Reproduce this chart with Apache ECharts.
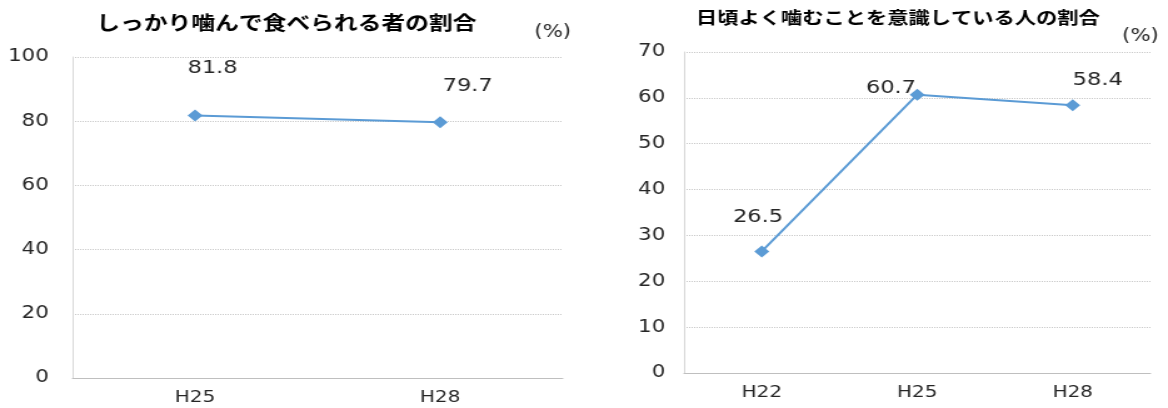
<!DOCTYPE html>
<html>
<head>
<meta charset="utf-8">
<script src="https://cdn.jsdelivr.net/npm/echarts@6/dist/echarts.min.js"></script>
<style>
  html, body { margin: 0; padding: 0; background: #fff; overflow: hidden; }
  #chart {
    width: 934px; height: 408px;
    transform: scaleX(1.2505); transform-origin: 0 0;
  }
</style>
</head>
<body>
<div id="chart"></div>
<script>
// Left panel: share of people who can chew food well
const titleA = 'しっかり噛んで食べられる者の割合';
const yearsA = ['H25', 'H28'];
const valuesA = [81.8, 79.7];

// Right panel: share of people who are mindful of chewing well
const titleB = '日頃よく噛むことを意識している人の割合';
const yearsB = ['H22', 'H25', 'H28'];
const valuesB = [26.5, 60.7, 58.4];

const unitText = '(%)';

// Hand-placed label offsets (px) for each data label
const labelShiftA = [[14, -47], [22, -36]];
const labelShiftB = [[-3, -34], [-21, -6], [20, -25]];

const blue = '#5b9bd5';
const numFont = '"DejaVu Sans", Verdana, sans-serif';
const jpFont = '"Noto Sans CJK JP", sans-serif';

function catAxis(gridIndex, cats) {
  return {
    type: 'category', gridIndex, data: cats, boundaryGap: true,
    axisLine: { show: true, lineStyle: { color: '#bfbfbf', width: 1 } },
    axisTick: { show: false },
    axisLabel: { color: '#262626', fontFamily: numFont, fontSize: 16, margin: 12 },
    splitLine: { show: false }
  };
}

function valAxis(gridIndex, max, step, margin) {
  return {
    type: 'value', gridIndex, min: 0, max, interval: step,
    axisLine: { show: true, lineStyle: { color: '#d9d9d9', width: 1 } },
    axisTick: { show: false },
    axisLabel: { color: '#262626', fontFamily: numFont, fontSize: 17, margin },
    splitLine: { show: true, lineStyle: { color: '#c8c8c8', type: 'dotted', width: 1 } }
  };
}

function lineSeries(axisIndex, values, shifts) {
  return {
    type: 'line', xAxisIndex: axisIndex, yAxisIndex: axisIndex,
    data: values.map((v, i) => ({
      value: v,
      label: { offset: shifts[i] }
    })),
    symbol: 'diamond', symbolSize: 12,
    itemStyle: { color: blue },
    lineStyle: { color: blue, width: 2 },
    label: {
      show: true, position: 'inside', color: '#262626',
      fontFamily: numFont, fontSize: 18,
      formatter: p => p.value.toFixed(1)
    },
    animation: false, z: 3
  };
}

const chart = echarts.init(document.getElementById('chart'), null, { renderer: 'canvas' });
chart.setOption({
  backgroundColor: '#fff',
  animation: false,
  grid: [
    { left: 58, top: 57, width: 392, height: 321 },
    { left: 547, top: 52, width: 373, height: 321 }
  ],
  xAxis: [catAxis(0, yearsA), catAxis(1, yearsB)],
  yAxis: [valAxis(0, 100, 20, 19), valAxis(1, 70, 10, 15)],
  series: [lineSeries(0, valuesA, labelShiftA), lineSeries(1, valuesB, labelShiftB)],
  graphic: [
    { type: 'text', x: 229, y: 23, style: { text: titleA, font: 'bold 19px ' + jpFont, fill: '#000', align: 'center', verticalAlign: 'middle' } },
    { type: 'text', x: 718, y: 18, style: { text: titleB, font: 'bold 17px ' + jpFont, fill: '#000', align: 'center', verticalAlign: 'middle' } },
    { type: 'text', x: 442, y: 33, style: { text: unitText, font: '17px ' + numFont, fill: '#262626', align: 'center', verticalAlign: 'middle' } },
    { type: 'text', x: 912, y: 37, style: { text: unitText, font: '17px ' + numFont, fill: '#262626', align: 'center', verticalAlign: 'middle' } }
  ]
});
</script>
</body>
</html>
